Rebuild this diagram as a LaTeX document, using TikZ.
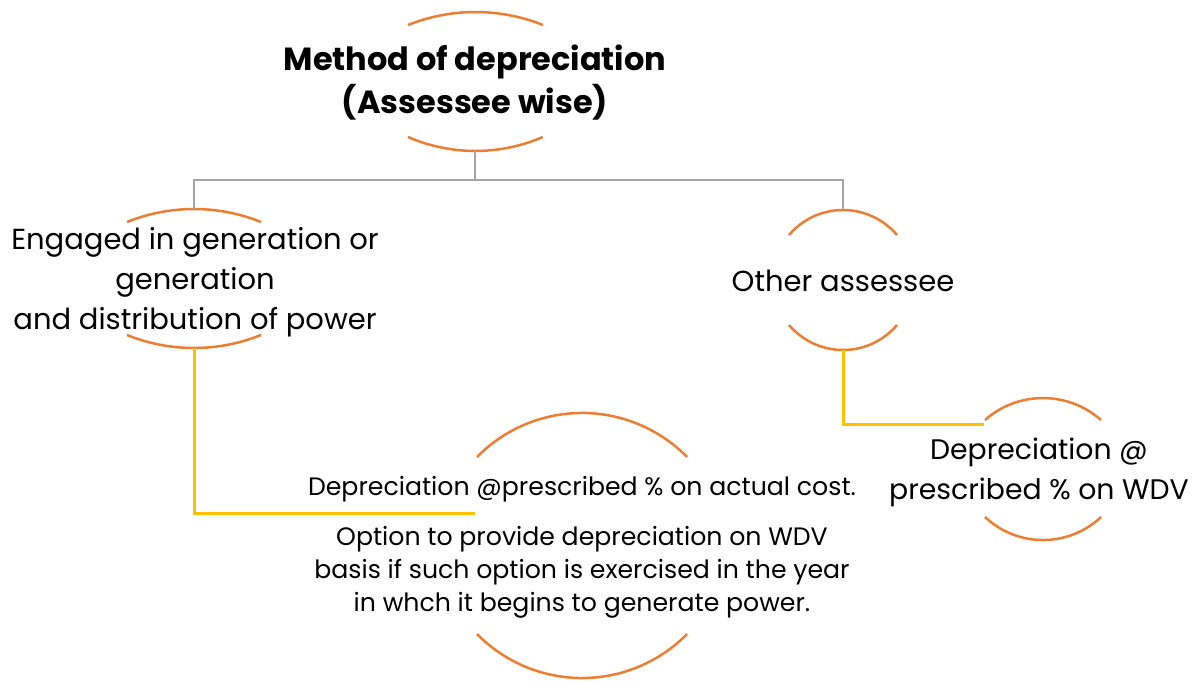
\documentclass[tikz,border=0pt]{standalone}
\usepackage{fontspec}
\setmainfont{Poppins}
\definecolor{arcor}{HTML}{ED7D31}
\definecolor{linegray}{HTML}{A5A5A5}
\definecolor{lineyel}{HTML}{FFC000}
\begin{document}
\begin{tikzpicture}[x=1pt,y=-1pt,
  arcline/.style={draw=arcor, line width=2.5pt},
  grayconn/.style={draw=linegray, line width=2.8pt},
  yelconn/.style={draw=lineyel, line width=3pt},
  txt/.style={align=center, inner sep=0pt, text=black},
  bigtxt/.style={txt, font=\fontsize{29}{40}\selectfont},
  smalltxt/.style={txt, font=\fontsize{25.2}{33}\selectfont}]
\useasboundingbox (0,0) rectangle (1196,681);

% text nodes
\node[txt, font=\bfseries\fontsize{32}{43}\selectfont] (title) at (475,83) {Method of depreciation\\(Assessee wise)};
\node[bigtxt] (left) at (195,282.5) {Engaged in generation or\\generation\\and distribution of power};
\node[bigtxt] (other) at (843,281) {Other assessee};
\node[bigtxt, font=\fontsize{28.3}{40}\selectfont] (wdv) at (1039,472.5) {Depreciation @\\prescribed \% on WDV};
\node[smalltxt] (act1) at (582,489) {Depreciation @prescribed \% on actual cost.};
\node[smalltxt] (act2) at (582,572) {Option to provide depreciation on WDV\\basis if such option is exercised in the year\\in whch it begins to generate power.};

% decorative arcs
\draw[arcline] (408,25) arc[start angle=-111.8, end angle=-68.2, radius=181.7];
\draw[arcline] (408,137) arc[start angle=113.4, end angle=66.6, radius=169.7];
\draw[arcline] (127,222) arc[start angle=-111.95, end angle=-68.05, radius=179.2];
\draw[arcline] (127,335) arc[start angle=111.95, end angle=68.05, radius=179.2];
\draw[arcline] (789,235) arc[start angle=-139.7, end angle=-40.3, radius=70.8];
\draw[arcline] (789,325) arc[start angle=139.7, end angle=40.3, radius=70.8];
\draw[arcline] (985,420) arc[start angle=-131.5, end angle=-48.5, radius=87.5];
\draw[arcline] (985,517) arc[start angle=133.3, end angle=46.7, radius=84.6];
\draw[arcline] (477,457) arc[start angle=-135.5, end angle=-44.5, radius=147.3];
\draw[arcline] (477,634) arc[start angle=135.5, end angle=44.5, radius=147.3];

% connector end points
\coordinate (tB) at (475,151);
\coordinate (split) at (475,180);
\coordinate (lT) at (194,209);
\coordinate (lB) at (194,348);
\coordinate (oT) at (843,210);
\coordinate (oB) at (843,350);
\coordinate (wL) at (984,424);
\coordinate (aL) at (475,513);

% connectors
\draw[grayconn] (tB) -- (split) -| (lT);
\draw[grayconn] (split) -| (oT);
\draw[yelconn] (lB) |- (aL);
\draw[yelconn] (oB) |- (wL);
\end{tikzpicture}
\end{document}
